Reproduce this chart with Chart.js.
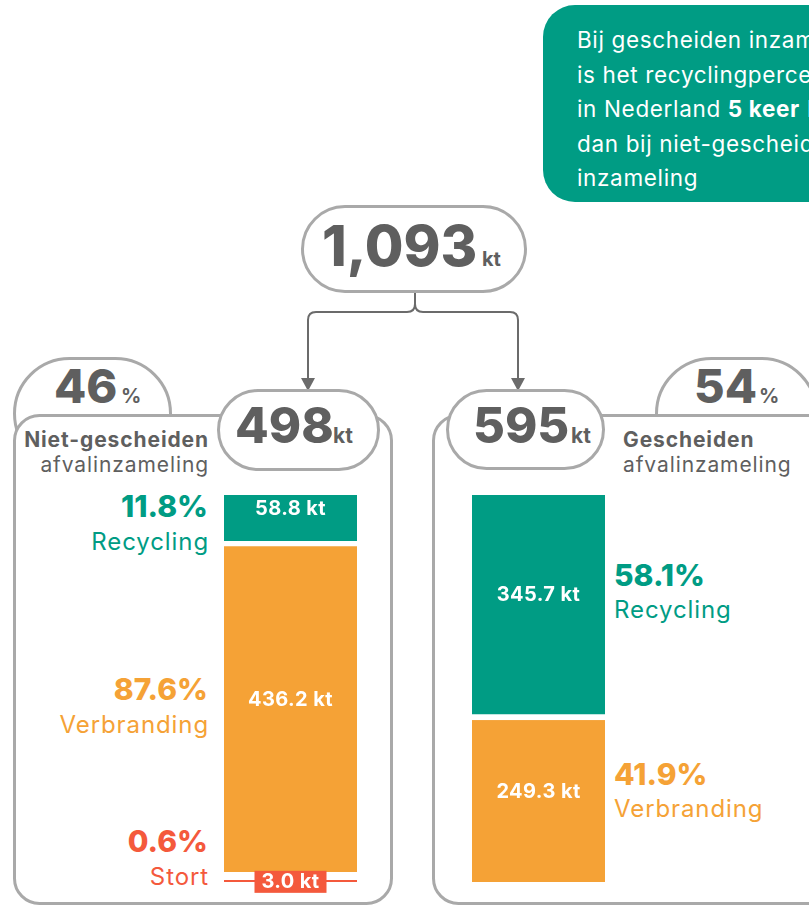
<!DOCTYPE html>
<html lang="nl">
<head>
<meta charset="utf-8">
<title>Afvalinzameling Nederland</title>
<script src="https://cdn.jsdelivr.net/npm/chart.js@4.4.1/dist/chart.umd.min.js"></script>
<style>
  html, body { margin: 0; padding: 0; background: #fff; }
  body { width: 809px; height: 907px; position: relative; overflow: hidden; font-family: Inter, "Noto Sans", sans-serif; }
  #frame { position: absolute; left: 0; top: 0; }
  canvas { position: absolute; }
  #chart-niet { left: 224px; top: 495px; }
  #chart-gesch { left: 472px; top: 495px; }
</style>
</head>
<body>

<svg id="frame" width="809" height="907" xmlns="http://www.w3.org/2000/svg">
  <!-- callout -->
  <rect x="543" y="5" width="330" height="197" rx="32" fill="#009c84"/>
  <text font-size="22.5" fill="#fff" font-family="Inter" letter-spacing="0.65">
    <tspan x="577" y="48">Bij gescheiden inzameling</tspan>
    <tspan x="577" y="82.5">is het recyclingpercentage</tspan>
    <tspan x="577" y="117">in Nederland <tspan font-weight="700">5 keer</tspan> hoger</tspan>
    <tspan x="577" y="151.5">dan bij niet-gescheiden</tspan>
    <tspan x="577" y="186">inzameling</tspan>
  </text>

  <!-- total -->
  <rect x="302.5" y="206.5" width="223" height="85" rx="42.5" fill="#fff" stroke="#a9a9a9" stroke-width="3"/>
  <g id="total-text" fill="#5f5f5f" font-weight="800" font-family="Inter"></g>

  <!-- connector -->
  <g fill="none" stroke="#6b6b6b" stroke-width="2">
    <path d="M415,293 V304 Q415,312 407,312 H316 Q308,312 308,320 V380"/>
    <path d="M415,304 Q415,312 423,312 H510 Q518,312 518,320 V380"/>
  </g>
  <polygon points="301,378 315,378 308,391" fill="#6b6b6b"/>
  <polygon points="511,378 525,378 518,391" fill="#6b6b6b"/>

  <!-- left panel -->
  <rect x="14.5" y="358.5" width="156" height="110" rx="55" fill="#fff" stroke="#a9a9a9" stroke-width="3"/>
  <rect x="14.5" y="415.5" width="377" height="488" rx="25" fill="#fff" stroke="#a9a9a9" stroke-width="3"/>
  <rect x="218.5" y="390.5" width="160" height="79" rx="39.5" fill="#fff" stroke="#a9a9a9" stroke-width="3"/>

  <!-- right panel -->
  <rect x="656.5" y="358.5" width="160" height="110" rx="55" fill="#fff" stroke="#a9a9a9" stroke-width="3"/>
  <rect x="433.5" y="415.5" width="400" height="488" rx="25" fill="#fff" stroke="#a9a9a9" stroke-width="3"/>
  <rect x="447.5" y="390.5" width="156" height="78" rx="39" fill="#fff" stroke="#a9a9a9" stroke-width="3"/>

  <g id="labels" font-family="Inter"></g>
</svg>

<canvas id="chart-niet" width="133" height="400"></canvas>
<canvas id="chart-gesch" width="133" height="400"></canvas>

<script>
// data
const streams = ['Recycling', 'Verbranding', 'Stort'];
const streamColors = ['#009c84', '#f5a236', '#f4593c'];
const groups = ['Niet-gescheiden', 'Gescheiden'];
const totalKt = 1093;
const groupTotalsKt = [498, 595];
const groupShares = [46, 54];
const nietGescheidenKt = [58.8, 436.2, 3.0];
const nietGescheidenPct = [11.8, 87.6, 0.6];
const gescheidenKt = [345.7, 249.3];
const gescheidenPct = [58.1, 41.9];

const grey = '#5f5f5f';
const svgNS = 'http://www.w3.org/2000/svg';

function addText(parent, str, x, y, attrs) {
  const t = document.createElementNS(svgNS, 'text');
  t.setAttribute('x', x);
  t.setAttribute('y', y);
  for (const k in attrs) t.setAttribute(k, attrs[k]);
  t.textContent = str;
  parent.appendChild(t);
  return t;
}

// big numbers
const totalG = document.getElementById('total-text');
addText(totalG, totalKt.toLocaleString('en-US'), 322, 266, { 'font-size': 56 });
addText(totalG, 'kt', 482, 266, { 'font-size': 20, 'font-weight': 700 });

const lab = document.getElementById('labels');
const heavy = { fill: grey, 'font-weight': 800 };
const bold = { fill: grey, 'font-weight': 700 };
addText(lab, String(groupShares[0]), 54, 403, { ...heavy, 'font-size': 47 });
addText(lab, '%', 121, 403, { ...bold, 'font-size': 20 });
addText(lab, String(groupShares[1]), 694, 403, { ...heavy, 'font-size': 47 });
addText(lab, '%', 759, 403, { ...bold, 'font-size': 20 });
addText(lab, String(groupTotalsKt[0]), 235, 443, { ...heavy, 'font-size': 49 });
addText(lab, 'kt', 333, 443, { ...bold, 'font-size': 21 });
addText(lab, String(groupTotalsKt[1]), 473, 443, { ...heavy, 'font-size': 49 });
addText(lab, 'kt', 571, 443, { ...bold, 'font-size': 21 });

// panel headings
const wide = { 'letter-spacing': 0.9 };
addText(lab, groups[0], 209, 447, { ...bold, ...wide, 'font-size': 21, 'text-anchor': 'end' });
addText(lab, 'afvalinzameling', 209, 472, { ...wide, fill: grey, 'font-size': 21, 'text-anchor': 'end' });
addText(lab, groups[1], 623, 447, { ...bold, ...wide, 'font-size': 21 });
addText(lab, 'afvalinzameling', 623, 472, { ...wide, fill: grey, 'font-size': 21 });

// side labels (percentage + stream name)
const leftBaselines = [517, 700, 852];
nietGescheidenPct.forEach((p, i) => {
  addText(lab, p.toFixed(1) + '%', 208, leftBaselines[i], { fill: streamColors[i], 'font-weight': 800, 'font-size': 30, 'text-anchor': 'end' });
  addText(lab, streams[i], 209, leftBaselines[i] + 33, { ...wide, fill: streamColors[i], 'font-size': 24, 'text-anchor': 'end' });
});
const rightBaselines = [586, 785];
gescheidenPct.forEach((p, i) => {
  addText(lab, p.toFixed(1) + '%', 614, rightBaselines[i], { fill: streamColors[i], 'font-weight': 800, 'font-size': 30 });
  addText(lab, streams[i], 614, rightBaselines[i] + 32, { ...wide, fill: streamColors[i], 'font-size': 24 });
});

// in-bar value labels
const barLabels = {
  id: 'barLabels',
  afterDatasetsDraw(chart) {
    const ctx = chart.ctx;
    ctx.save();
    ctx.font = '700 20px Inter';
    ctx.letterSpacing = '0.4px';
    ctx.textAlign = 'center';
    ctx.textBaseline = 'middle';
    chart.data.datasets.forEach((ds, i) => {
      const bar = chart.getDatasetMeta(i).data[0];
      const { x, y, base } = bar.getProps(['x', 'y', 'base'], true);
      const text = ds.data[0].toFixed(1) + ' kt';
      const cy = (y + base) / 2;
      if (ds.boxed) {
        ctx.fillStyle = ds.backgroundColor;
        ctx.fillRect(x - 36, cy - 10, 72, 22);
        ctx.fillStyle = '#fff';
        ctx.fillText(text, x, cy + 1);
      } else {
        const bw = ds.borderWidth;
        const top = Math.min(y, base) + bw.top;
        const bottom = Math.max(y, base) - bw.bottom;
        ctx.fillStyle = '#fff';
        ctx.fillText(text, x, (top + bottom) / 2 - 9);
      }
    });
    ctx.restore();
  }
};

function makeChart(id, values, total, borders) {
  const datasets = values.map((v, i) => ({
    label: streams[i],
    data: [v],
    backgroundColor: streamColors[i],
    borderColor: '#fff',
    borderWidth: borders[i],
    borderSkipped: false,
    boxed: i === 2
  }));
  return new Chart(document.getElementById(id), {
    type: 'bar',
    data: { labels: [''], datasets },
    options: {
      responsive: false,
      animation: false,
      layout: { padding: { top: 0, left: 0, right: 0, bottom: 13 } },
      datasets: { bar: { barPercentage: 1, categoryPercentage: 1 } },
      plugins: { legend: { display: false }, tooltip: { enabled: false } },
      scales: {
        x: { stacked: true, display: false },
        y: { stacked: true, display: false, reverse: true, min: 0, max: total }
      }
    },
    plugins: [barLabels]
  });
}

makeChart('chart-niet', nietGescheidenKt, groupTotalsKt[0], [
  { top: 0, bottom: 0, left: 0, right: 0 },
  { top: 6, bottom: 8, left: 0, right: 0 },
  { top: 0, bottom: 0, left: 0, right: 0 }
]);
makeChart('chart-gesch', gescheidenKt, groupTotalsKt[1], [
  { top: 0, bottom: 6, left: 0, right: 0 },
  { top: 0, bottom: 0, left: 0, right: 0 }
]);
</script>
</body>
</html>
